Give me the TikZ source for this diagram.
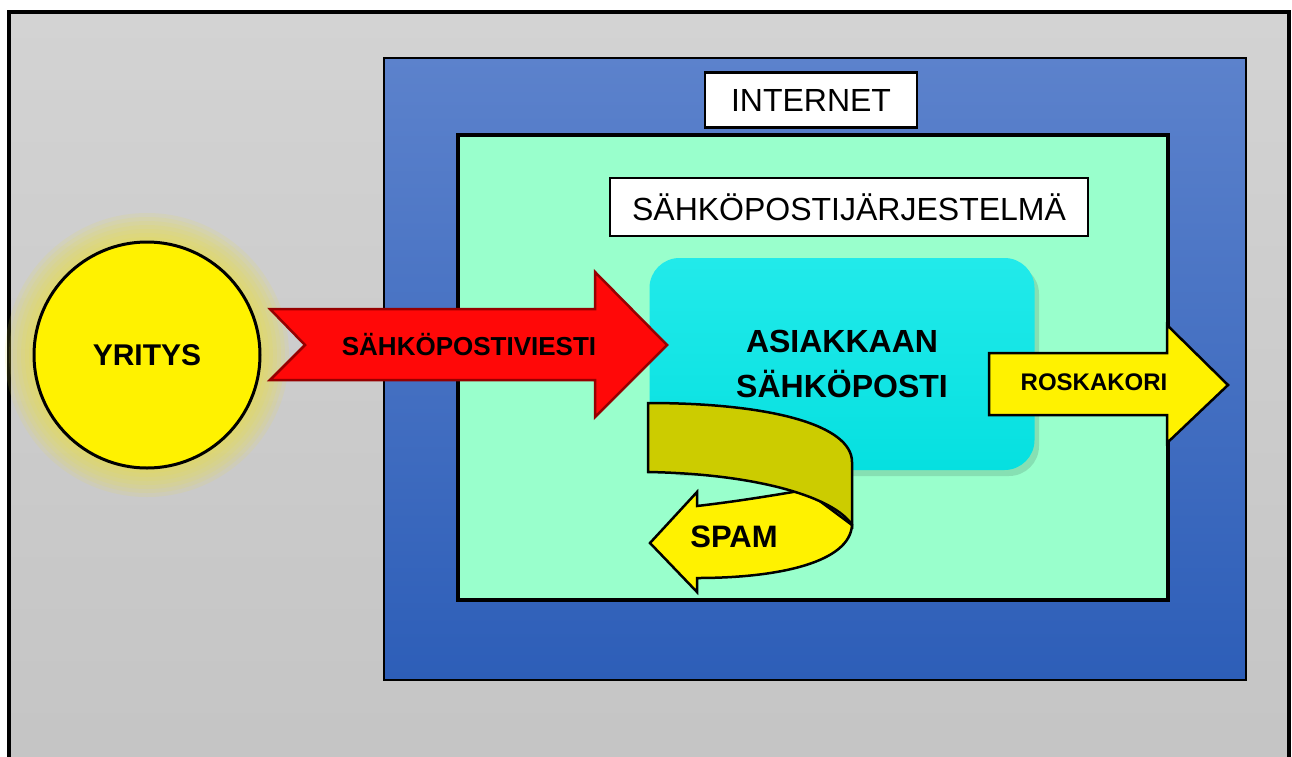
\documentclass[tikz,border=0pt]{standalone}
\usepackage{fontspec}
\setmainfont{Liberation Sans}
\usetikzlibrary{positioning,backgrounds,calc}
\definecolor{framegray1}{RGB}{211,211,211}
\definecolor{framegray2}{RGB}{196,196,196}
\definecolor{netblue1}{RGB}{92,130,204}
\definecolor{netblue2}{RGB}{45,94,184}
\definecolor{mint}{RGB}{153,255,204}
\definecolor{inboxcyan1}{RGB}{34,234,234}
\definecolor{inboxcyan2}{RGB}{6,224,224}
\definecolor{glowyellow}{RGB}{235,225,65}
\definecolor{spamolive}{RGB}{204,204,0}
\definecolor{arrowred}{RGB}{255,8,8}
\definecolor{darkred}{RGB}{150,0,0}

\begin{document}
\begin{tikzpicture}[x=1pt,y=-1pt,
 semithick,
 labelbox/.style={draw, line width=2.5pt, fill=white, inner sep=0pt,
   font=\fontsize{32}{36}\selectfont},
 bold/.style={font=\bfseries\fontsize{#1}{#1}\selectfont},
 bold/.default=30,
 blockarrow/.style={line width=2.5pt, line join=miter}]
\useasboundingbox (0,0) rectangle (1292,756);
\fill[white] (0,0) rectangle (1292,756);
% frame and system boxes
\draw[line width=3.5pt, top color=framegray1, bottom color=framegray2] (9,12) rectangle (1289,790);
\draw[line width=2.5pt, top color=netblue1, bottom color=netblue2] (384,58) rectangle (1246,680);
\draw[line width=3.5pt, fill=mint] (458,135) rectangle (1168,600);
\node[labelbox, minimum width=212, minimum height=55] (internet) at (811,100) {INTERNET};
\node[labelbox, minimum width=478, minimum height=58] (system) at (849,207) {SÄHKÖPOSTIJÄRJESTELMÄ};
% inbox
\fill[black, opacity=0.12, rounded corners=30pt] (654,264) rectangle (1039,476);
\node[rounded corners=30pt, top color=inboxcyan1, bottom color=inboxcyan2,
 minimum width=385, minimum height=212, align=center,
 font=\bfseries\fontsize{32}{45}\selectfont] (inbox) at (842,364) {ASIAKKAAN\\SÄHKÖPOSTI};
% company
\foreach \r in {142,138,...,114}
 \fill[glowyellow, opacity=0.13] (147,355) circle (\r);
\node[circle, draw, line width=3pt, fill=yellow, minimum size=226, bold=30] (yritys) at (147,355) {YRITYS};
% message arrow
\draw[blockarrow, draw=darkred, fill=arrowred] (270,309) -- (595,309) -- (595,272) -- (667,345)
 -- (595,417) -- (595,380) -- (270,380) -- (305,345) -- cycle;
\node[bold=26] (viesti) at (469,345) {SÄHKÖPOSTIVIESTI};
% trash arrow
\draw[blockarrow, fill=yellow] (989,353) -- (1167,353) -- (1167,325) -- (1228,385)
 -- (1167,443) -- (1167,415) -- (989,415) -- cycle;
\node[bold=24] (roskakori) at (1094,382) {ROSKAKORI};
% spam arrow
\draw[blockarrow, fill=yellow] (650,543) -- (697,492) -- (697,506)
 .. controls (740,501) and (775,495) .. (805,490) -- (852,525)
 .. controls (850,562) and (780,578) .. (697,578) -- (697,592) -- cycle;
\draw[blockarrow, fill=spamolive] (648,403) .. controls (770,403) and (852,425) .. (852,462)
 -- (852,525) .. controls (835,498) and (760,474) .. (648,472) -- cycle;
\node[bold=31] (spam) at (734,537) {SPAM};
\end{tikzpicture}
\end{document}
